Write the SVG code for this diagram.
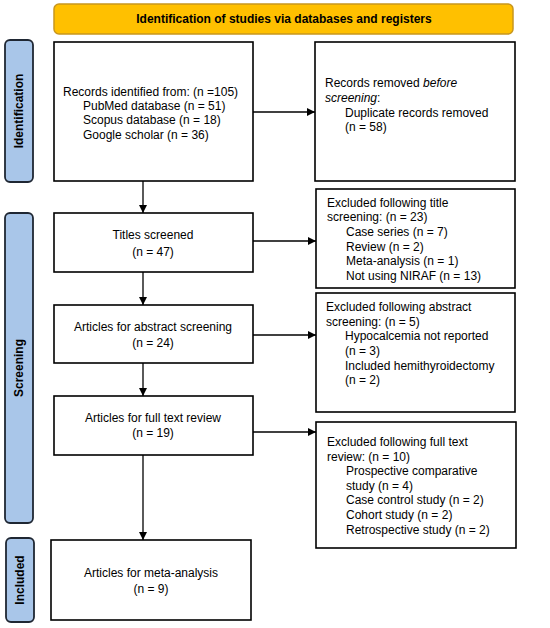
<svg xmlns="http://www.w3.org/2000/svg" width="550" height="628" viewBox="0 0 550 628">
<style>
.box{fill:#fff;stroke:#000;stroke-width:1.6}
.side{fill:#a9c6e9;stroke:#1f2733;stroke-width:1.8}
.t{font-family:"Liberation Sans",Arial,sans-serif;font-size:12px;fill:#000}
.c{text-anchor:middle}
.b{font-weight:bold}
.sl{font-family:"Liberation Sans",Arial,sans-serif;font-size:12px;font-weight:bold;text-anchor:middle;fill:#000}
.ln{stroke:#000;stroke-width:1.3;fill:none}
</style>
<defs>
<marker id="ah" markerWidth="8" markerHeight="8" refX="8" refY="4" orient="auto" markerUnits="userSpaceOnUse">
<path d="M0,0 L8,4 L0,8 Z" fill="#000"/>
</marker>
</defs>
<rect width="550" height="628" fill="#fff"/>
<g id="banner">
<rect x="54" y="4" width="459" height="30" rx="5" fill="#ffc000" stroke="#c8961e" stroke-width="1.5"/>
<text class="t b c" x="284" y="23">Identification of studies via databases and registers</text>
</g>
<g id="side-identification">
<rect class="side" x="5" y="40" width="28" height="142" rx="5"/>
<text class="sl" transform="translate(23,111) rotate(-90)">Identification</text>
</g>
<g id="side-screening">
<rect class="side" x="5" y="213" width="28" height="310" rx="5"/>
<text class="sl" transform="translate(23,368) rotate(-90)">Screening</text>
</g>
<g id="side-included">
<rect class="side" x="6" y="538" width="28" height="84" rx="5"/>
<text class="sl" transform="translate(24,580) rotate(-90)">Included</text>
</g>
<g id="records">
<rect class="box" x="54" y="42" width="199" height="139"/>
<text class="t" x="63" y="96">Records identified from: (n =105)</text>
<text class="t" x="83" y="110">PubMed database (n = 51)</text>
<text class="t" x="83" y="124">Scopus database (n = 18)</text>
<text class="t" x="83" y="139">Google scholar (n = 36)</text>
</g>
<g id="removed">
<rect class="box" x="315" y="42" width="200" height="139"/>
<text class="t" x="325" y="87">Records removed <tspan font-style="italic">before</tspan></text>
<text class="t" x="325" y="102"><tspan font-style="italic">screening</tspan>:</text>
<text class="t" x="345" y="117">Duplicate records removed</text>
<text class="t" x="345" y="131">(n = 58)</text>
</g>
<g id="titles">
<rect class="box" x="54" y="213" width="199" height="59"/>
<text class="t c" x="153" y="239">Titles screened</text>
<text class="t c" x="153" y="256">(n = 47)</text>
</g>
<g id="excl-title">
<rect class="box" x="316" y="189" width="199" height="99"/>
<text class="t" x="327" y="207">Excluded following title</text>
<text class="t" x="327" y="221">screening: (n = 23)</text>
<text class="t" x="346" y="236">Case series (n = 7)</text>
<text class="t" x="346" y="251">Review (n = 2)</text>
<text class="t" x="346" y="265">Meta-analysis (n = 1)</text>
<text class="t" x="346" y="280">Not using NIRAF (n = 13)</text>
</g>
<g id="abstract">
<rect class="box" x="54" y="305" width="199" height="58"/>
<text class="t c" x="153" y="331">Articles for abstract screening</text>
<text class="t c" x="153" y="347">(n = 24)</text>
</g>
<g id="excl-abstract">
<rect class="box" x="316" y="293" width="199" height="119"/>
<text class="t" x="326" y="311">Excluded following abstract</text>
<text class="t" x="326" y="326">screening: (n = 5)</text>
<text class="t" x="345" y="340">Hypocalcemia not reported</text>
<text class="t" x="345" y="355">(n = 3)</text>
<text class="t" x="345" y="370">Included hemithyroidectomy</text>
<text class="t" x="345" y="384">(n = 2)</text>
</g>
<g id="fulltext">
<rect class="box" x="54" y="396" width="199" height="59"/>
<text class="t c" x="153" y="422">Articles for full text review</text>
<text class="t c" x="153" y="437">(n = 19)</text>
</g>
<g id="excl-fulltext">
<rect class="box" x="316" y="422" width="200" height="126"/>
<text class="t" x="327" y="446">Excluded following full text</text>
<text class="t" x="327" y="461">review: (n = 10)</text>
<text class="t" x="346" y="475">Prospective comparative</text>
<text class="t" x="346" y="490">study (n = 4)</text>
<text class="t" x="346" y="504">Case control study (n = 2)</text>
<text class="t" x="346" y="519">Cohort study (n = 2)</text>
<text class="t" x="346" y="534">Retrospective study (n = 2)</text>
</g>
<g id="meta">
<rect class="box" x="51" y="540" width="200" height="80"/>
<text class="t c" x="151" y="577">Articles for meta-analysis</text>
<text class="t c" x="151" y="593">(n = 9)</text>
</g>
<g id="connectors">
<line class="ln" x1="253" y1="112" x2="315" y2="112" marker-end="url(#ah)"/>
<line class="ln" x1="143" y1="181" x2="143" y2="213" marker-end="url(#ah)"/>
<line class="ln" x1="253" y1="241" x2="316" y2="241" marker-end="url(#ah)"/>
<line class="ln" x1="143" y1="272" x2="143" y2="305" marker-end="url(#ah)"/>
<line class="ln" x1="253" y1="335" x2="316" y2="335" marker-end="url(#ah)"/>
<line class="ln" x1="143" y1="363" x2="143" y2="396" marker-end="url(#ah)"/>
<line class="ln" x1="253" y1="432" x2="316" y2="432" marker-end="url(#ah)"/>
<line class="ln" x1="143" y1="455" x2="143" y2="540" marker-end="url(#ah)"/>
</g>
</svg>
